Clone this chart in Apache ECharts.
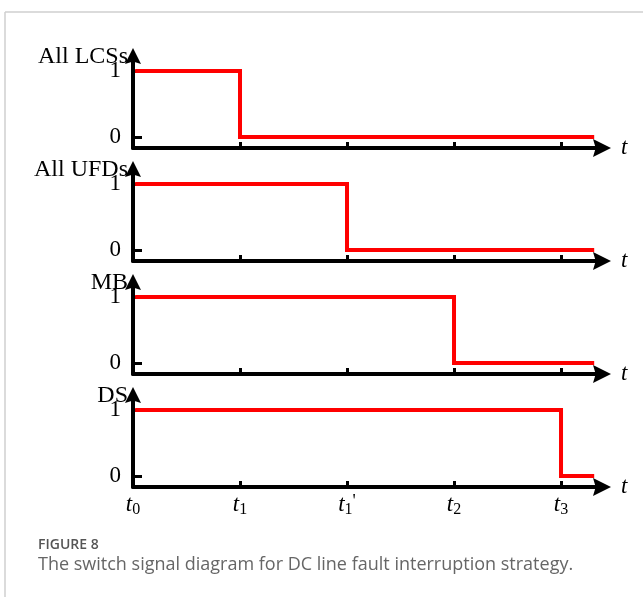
<!DOCTYPE html>
<html>
<head>
<meta charset="utf-8">
<script src="https://cdn.jsdelivr.net/npm/echarts@6/dist/echarts.min.js"></script>
<style>
  html, body { margin: 0; padding: 0; background: #fff; }
  #chart { width: 643px; height: 597px; }
</style>
</head>
<body>
<div id="chart"></div>
<script>
// Switch names (one timing panel each, top to bottom)
const switchNames = ['All LCSs', 'All UFDs', 'MB', 'DS'];
// Time at which each switch signal drops from 1 to 0
const dropTimes = [1, 2, 3, 4];
// Signal state before and after the drop
const levelOn = 1;
const levelOff = 0;
// End of the drawn signal trace
const traceEnd = 4.31;
// Time-axis ticks and their labels (subscript index, optional prime)
const timeTicks = [0, 1, 2, 3, 4];
const timeSubs = ['0', '1', '1', '2', '3'];
const timePrimes = ['', '', "'", '', ''];
// Signal-axis ticks
const levelTicks = [0, 1];

const SERIF = '"Liberation Serif", "Times New Roman", serif';
const panelTop0 = 56;
const panelStep = 113;
const panelHeight = 92;
const yMin = -0.167, yMax = 1.227;
const xMax = 4.383;

const grids = [], xAxes = [], yAxes = [], series = [];
const arrowPath = 'path://M0,0L10,20L0,17L-10,20Z';

switchNames.forEach((name, i) => {
  const isLast = i === switchNames.length - 1;
  grids.push({ left: 133, width: 469, top: panelTop0 + i * panelStep, height: panelHeight });
  xAxes.push({
    type: 'value', gridIndex: i, min: 0, max: xMax,
    name: 't', nameLocation: 'end', nameGap: 19, nameMoveOverlap: false,
    nameTextStyle: { fontFamily: SERIF, fontStyle: 'italic', fontSize: 23, color: '#000', align: 'left', verticalAlign: 'middle', padding: [0, 0, 2, 0] },
    axisLine: { onZero: false, symbol: ['none', arrowPath], symbolSize: [18, 21], lineStyle: { color: '#000', width: 4 } },
    axisTick: { show: true, inside: true, length: 6, customValues: timeTicks.slice(1), lineStyle: { color: '#000', width: 3 } },
    axisLabel: {
      show: isLast, customValues: timeTicks, margin: 5,
      formatter: (v) => {
        const k = timeTicks.indexOf(Math.round(v * 1000) / 1000);
        if (k < 0) return '';
        return '{t|t}{s|' + timeSubs[k] + '}' + (timePrimes[k] ? '{p|' + timePrimes[k] + '}' : '');
      },
      rich: {
        t: { fontFamily: SERIF, fontStyle: 'italic', fontSize: 23, color: '#000' },
        s: { fontFamily: SERIF, fontSize: 16, color: '#000', padding: [10, 0, 0, 0] },
        p: { fontFamily: SERIF, fontSize: 18, color: '#000', padding: [0, 0, 6, 0] }
      }
    },
    splitLine: { show: false }
  });
  yAxes.push({
    type: 'value', gridIndex: i, min: yMin, max: yMax,
    name: name, nameLocation: 'end', nameGap: -1, nameMoveOverlap: false,
    nameTextStyle: { fontFamily: SERIF, fontSize: 24, color: '#000', align: 'right', verticalAlign: 'middle', padding: [0, 5, 0, 0] },
    axisLine: { show: true, symbol: ['none', arrowPath], symbolSize: [16, 18], lineStyle: { color: '#000', width: 4 } },
    axisTick: { show: true, inside: true, length: 9, customValues: levelTicks, lineStyle: { color: '#000', width: 3 } },
    axisLabel: { customValues: levelTicks, margin: 12, fontFamily: SERIF, fontSize: 23, color: '#000' },
    splitLine: { show: false }
  });
  const t = dropTimes[i];
  series.push({
    type: 'line', xAxisIndex: i, yAxisIndex: i, symbol: 'none', silent: true,
    lineStyle: { color: '#ff0000', width: 4, join: 'miter' },
    data: [[0.02, levelOn], [t, levelOn], [t, levelOff], [traceEnd, levelOff]]
  });
});

const chart = echarts.init(document.getElementById('chart'), null, { renderer: 'canvas' });
chart.setOption({
  animation: false,
  backgroundColor: '#fff',
  grid: grids, xAxis: xAxes, yAxis: yAxes, series: series,
  graphic: [
    { type: 'line', shape: { x1: 5, y1: 12, x2: 643, y2: 12 }, style: { stroke: '#cfcfcf', lineWidth: 1.5 } },
    { type: 'line', shape: { x1: 5, y1: 12, x2: 5, y2: 597 }, style: { stroke: '#cfcfcf', lineWidth: 1.5 } },
    { type: 'text', left: 38, top: 538, style: { text: 'FIGURE 8', fontFamily: '"Open Sans", sans-serif', fontSize: 14, fontWeight: 600, fill: '#555' } },
    { type: 'text', left: 38, top: 556, style: { text: 'The switch signal diagram for DC line fault interruption strategy.', fontFamily: '"Open Sans", sans-serif', fontSize: 18, fill: '#666' } }
  ]
});
</script>
</body>
</html>
